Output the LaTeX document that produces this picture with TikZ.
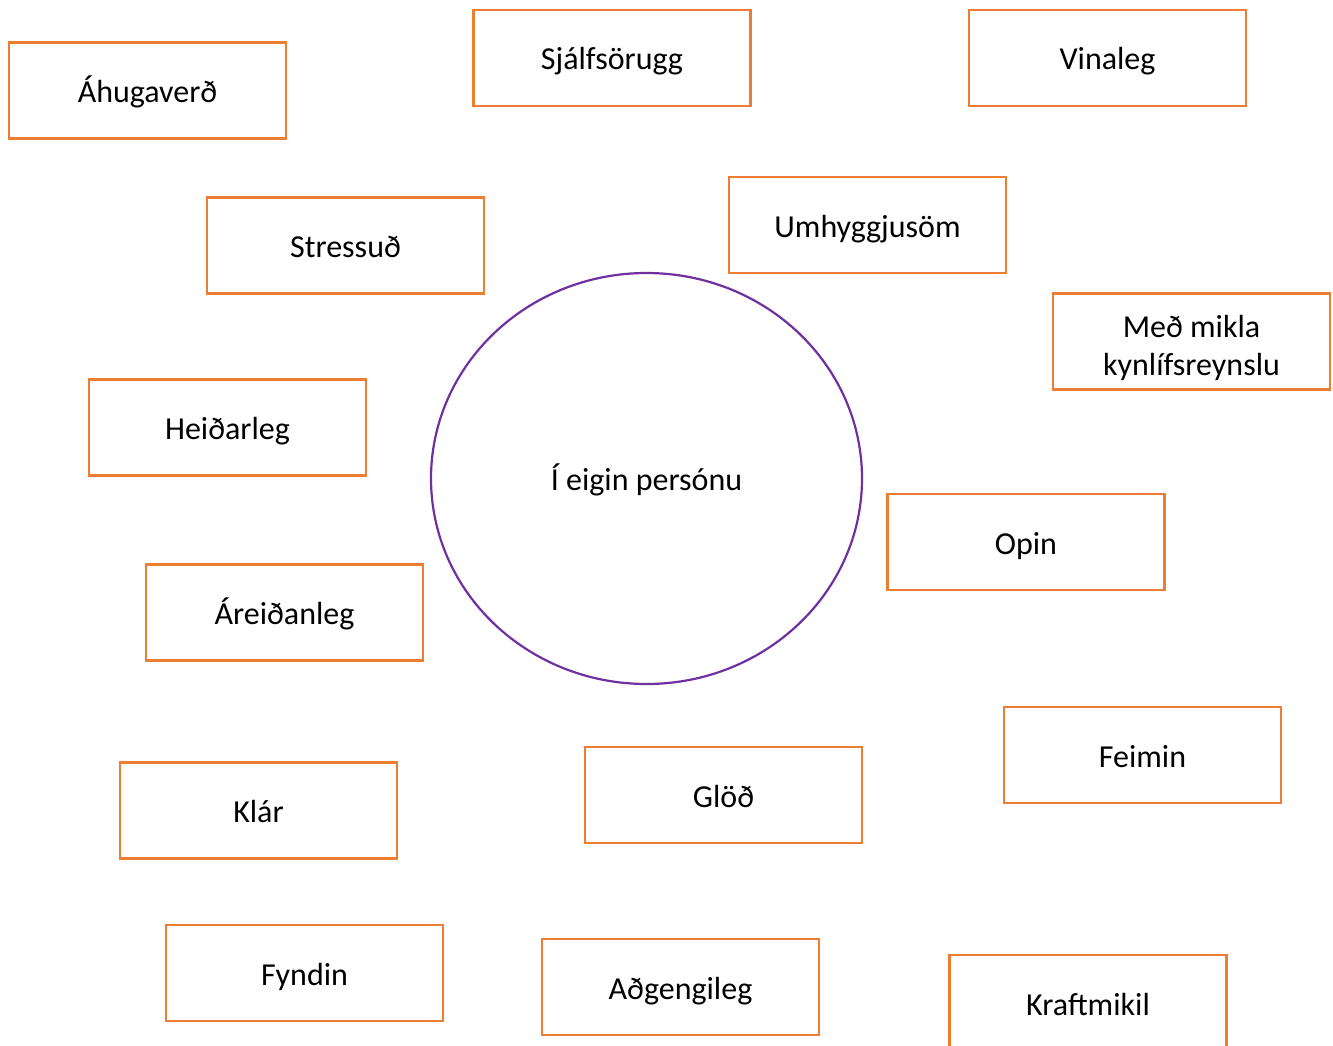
\documentclass[tikz,border=0pt]{standalone}
\usepackage{fontspec}
\usetikzlibrary{shapes.geometric}
\setmainfont{Carlito}
\definecolor{boxorange}{HTML}{ED7D31}
\definecolor{ringpurple}{HTML}{7030A0}
\begin{document}
\begin{tikzpicture}[x=1pt,y=-1pt,
  wordfont/.style={font=\fontsize{32}{38}\selectfont},
  oneline/.style={text height=31pt,text depth=7pt},
  wordbox/.style={wordfont,draw=boxorange,line width=2.2pt,fill=white,rectangle,
    minimum width=277pt,minimum height=96pt,align=center,inner sep=0pt},
  ring/.style={wordfont,oneline,draw=ringpurple,line width=2.2pt,ellipse,
    minimum width=431pt,minimum height=411pt,inner sep=0pt}]
\useasboundingbox (0,0) rectangle (1333,1046);
\begin{scope}
\clip (0,0) rectangle (1333,1046);
\node[ring] (self) at (646.5,478.5) {Í eigin persónu};
\node[wordbox,oneline] (ahugaverd) at (147.5,90.5) {Áhugaverð};
\node[wordbox,oneline] (sjalfsorugg) at (612,58) {Sjálfsörugg};
\node[wordbox,oneline] (vinaleg) at (1107.5,58) {Vinaleg};
\node[wordbox,oneline] (stressud) at (345.5,245.5) {Stressuð};
\node[wordbox,oneline] (umhyggjusom) at (867.5,225) {Umhyggjusöm};
\node[wordbox] (kynlif) at (1191.5,341.5) {\rule{0pt}{35pt}Með mikla\\kynlífsreynslu};
\node[wordbox,oneline] (heidarleg) at (227.5,427.5) {Heiðarleg};
\node[wordbox,oneline] (opin) at (1026,542) {Opin};
\node[wordbox,oneline] (areidanleg) at (284.5,612.5) {Áreiðanleg};
\node[wordbox,oneline] (feimin) at (1142.5,755) {Feimin};
\node[wordbox,oneline] (klar) at (258.5,810.5) {Klár};
\node[wordbox,oneline] (glod) at (723.5,795) {Glöð};
\node[wordbox,oneline] (fyndin) at (304.5,973) {Fyndin};
\node[wordbox,oneline] (adgengileg) at (680.5,987) {Aðgengileg};
\node[wordbox,oneline] (kraftmikil) at (1088,1003) {Kraftmikil};
\end{scope}
\end{tikzpicture}
\end{document}
